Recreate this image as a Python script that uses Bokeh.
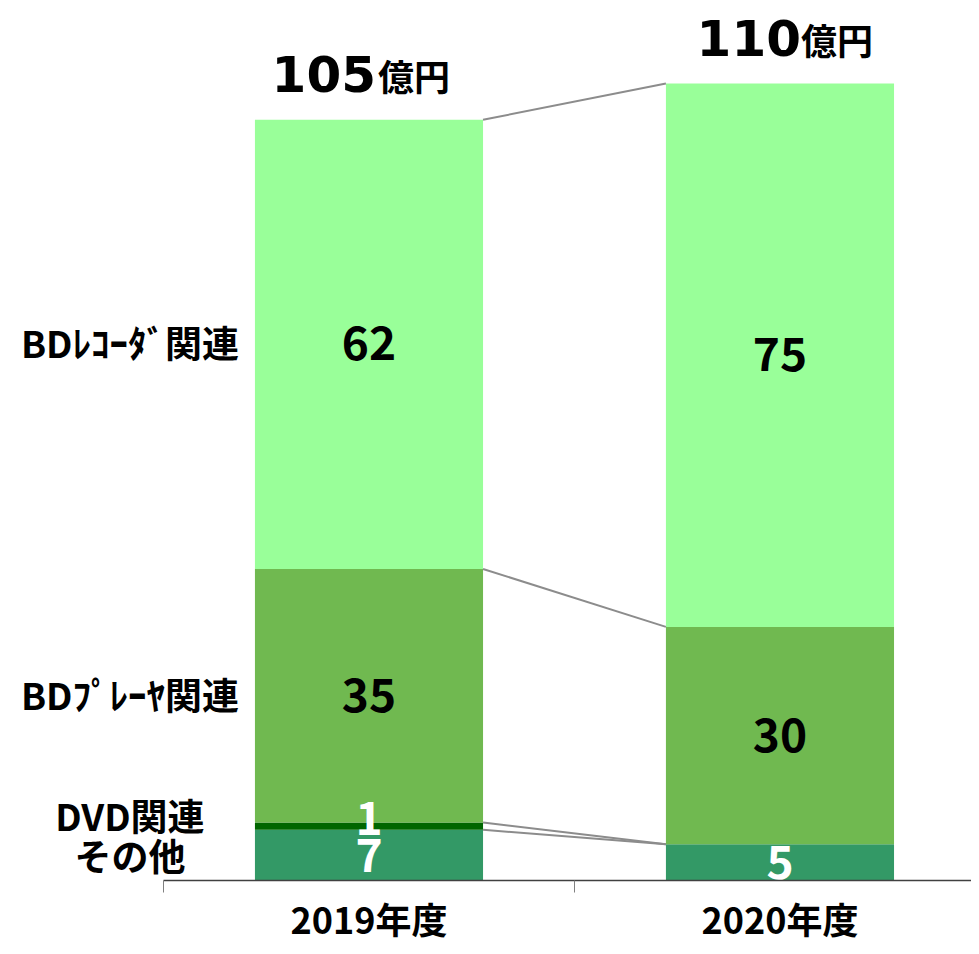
from bokeh.plotting import figure
from bokeh.models import ColumnDataSource, FixedTicker, Range1d
from bokeh.core.properties import value
from bokeh.embed import file_html
from bokeh.resources import INLINE

# ---- data ----
years = ["2019年度", "2020年度"]
categories = ["その他", "DVD関連", "BDﾌﾟﾚｰﾔ関連", "BDﾚｺｰﾀﾞ関連"]
sonota = [7, 5]
dvd = [1, 0]
bd_player = [35, 30]
bd_recorder = [62, 75]
totals = [105, 110]
unit = "億円"

series = [sonota, dvd, bd_player, bd_recorder]

# ---- style ----
colors = ["#339966", "#006600", "#70B950", "#99FF99"]
label_colors = ["#FFFFFF", "#FFFFFF", "#000000", "#000000"]
value_label_dy = [0, -8, -1, -1]
left_label_dy = [0, -11, -2, -2]
total_num_dx = [7, 21]
total_unit_dx = [9, 21]
bar_w = 0.555
JP = value("Noto Sans CJK JP")

centers = [i + 0.5 for i in range(len(years))]

# stacked segments
seg = dict(x=[], bottom=[], top=[], color=[], mid=[], label=[], lcolor=[], dy=[])
cums = []
for i, yr in enumerate(years):
    c = 0
    cum = []
    for k, s in enumerate(series):
        v = s[i]
        seg["x"].append(centers[i])
        seg["bottom"].append(c)
        seg["top"].append(c + v)
        seg["color"].append(colors[k])
        seg["mid"].append(c + v / 2)
        seg["label"].append(str(v) if v > 0 else "")
        seg["lcolor"].append(label_colors[k])
        seg["dy"].append(value_label_dy[k])
        c += v
        cum.append(c)
    cums.append(cum)
src = ColumnDataSource(seg)

p = figure(width=971, height=946, output_backend="svg", toolbar_location=None,
           x_range=Range1d(-0.3966, 1.966), y_range=Range1d(-9.11, 121.46),
           min_border_left=0, min_border_right=0, min_border_top=0, min_border_bottom=0)
p.outline_line_color = None
p.grid.visible = False
p.yaxis.visible = False
p.background_fill_color = "white"
p.border_fill_color = "white"

p.vbar(x="x", bottom="bottom", top="top", width=bar_w, fill_color="color",
       line_color=None, source=src)

# connector lines
conn = dict(x0=[], y0=[], x1=[], y1=[])
for k in range(len(categories)):
    conn["x0"].append(centers[0] + bar_w / 2)
    conn["y0"].append(cums[0][k])
    conn["x1"].append(centers[1] - bar_w / 2)
    conn["y1"].append(cums[1][k])
p.segment(x0="x0", y0="y0", x1="x1", y1="y1", source=ColumnDataSource(conn),
          line_color="#8C8C8C", line_width=2)

# value labels
p.text(x="x", y="mid", text="label", text_color="lcolor", source=src, y_offset="dy",
       text_font=JP, text_font_style="bold", text_font_size="46px",
       text_align="center", text_baseline="middle")

# left category labels (from 2019 stack)
left = ColumnDataSource(dict(
    x=[centers[0] - bar_w / 2] * len(categories),
    y=[seg["mid"][k] for k in range(len(categories))],
    text=categories, dy=left_label_dy))
p.text(x="x", y="y", text="text", source=left, x_offset=-125, y_offset="dy",
       text_font=JP, text_font_style="bold", text_font_size="37px",
       text_color="#000000", text_align="center", text_baseline="middle")

# totals
tot = ColumnDataSource(dict(x=centers, y=totals, num=[str(t) for t in totals],
                            unit=[unit] * len(totals), ndx=total_num_dx, udx=total_unit_dx))
p.text(x="x", y="y", text="num", source=tot, x_offset="ndx", y_offset=-46,
       text_font=value("DejaVu Sans"), text_font_style="bold", text_font_size="50px",
       text_color="#000000", text_align="right", text_baseline="middle")
p.text(x="x", y="y", text="unit", source=tot, x_offset="udx", y_offset=-45,
       text_font=JP, text_font_style="bold", text_font_size="36px",
       text_color="#000000", text_align="left", text_baseline="middle")

# x axis at y = 0
ax = p.xaxis[0]
ax.fixed_location = 0
ax.ticker = FixedTicker(ticks=centers, minor_ticks=[0, 1, 2])
ax.major_label_overrides = {c: y for c, y in zip(centers, years)}
ax.bounds = (0, 2)
ax.major_tick_out = 0
ax.major_tick_in = 0
ax.minor_tick_out = 12
ax.minor_tick_in = 0
ax.minor_tick_line_color = "#808080"
ax.axis_line_color = "#404040"
ax.axis_line_width = 1.5
ax.major_label_standoff = 0
ax.major_label_text_font = "Noto Sans CJK JP"
ax.major_label_text_font_style = "bold"
ax.major_label_text_font_size = "36px"
ax.major_label_text_color = "#000000"

open("out.html", "w").write(file_html(p, INLINE))
